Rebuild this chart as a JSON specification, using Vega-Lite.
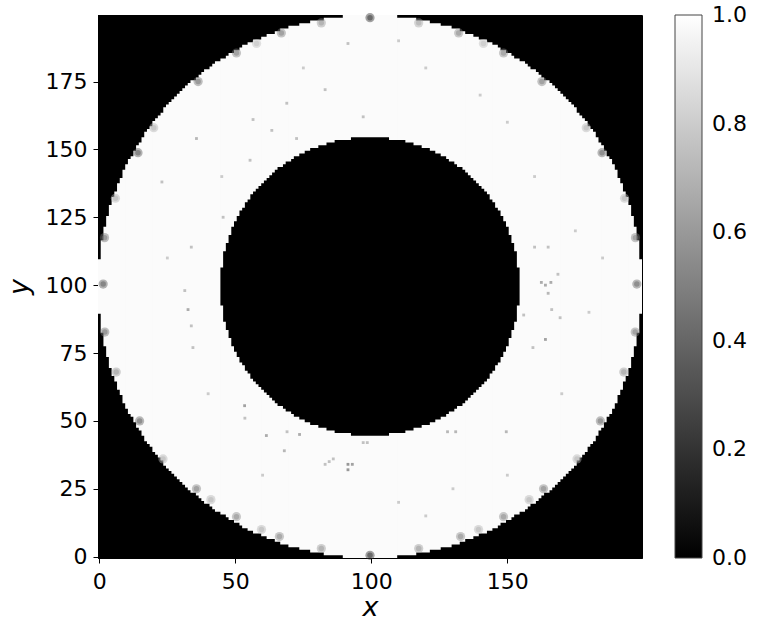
{
  "$schema": "https://vega.github.io/schema/vega-lite/v6.json",
  "autosize": {"type": "none"},
  "padding": {"left": 98, "top": 15, "right": 116, "bottom": 66},
  "width": 544,
  "height": 543,
  "background": "white",
  "config": {
    "font": "DejaVu Sans",
    "view": {"stroke": "black", "strokeWidth": 1},
    "axis": {
      "grid": false,
      "domainColor": "black",
      "tickColor": "black",
      "tickSize": 5,
      "labelFontSize": 22,
      "labelColor": "black",
      "labelFont": "DejaVu Sans",
      "titleFont": "DejaVu Sans",
      "titleFontSize": 27,
      "titleFontStyle": "italic",
      "titleFontWeight": "normal",
      "titleColor": "black"
    }
  },
  "datasets": {
    "regions": [
      {"x0": -0.5, "x1": 199.5, "y0": -0.5, "y1": 199.5, "v": 0},
      {"x0": -0.5, "x1": 199.5, "y0": 89.5, "y1": 109.5, "v": 0.985},
      {"x0": 0.5, "x1": 198.5, "y0": 82.5, "y1": 116.5, "v": 0.985},
      {"x0": 1.5, "x1": 197.5, "y0": 77.5, "y1": 121.5, "v": 0.985},
      {"x0": 2.5, "x1": 196.5, "y0": 73.5, "y1": 125.5, "v": 0.985},
      {"x0": 3.5, "x1": 195.5, "y0": 69.5, "y1": 129.5, "v": 0.985},
      {"x0": 4.5, "x1": 194.5, "y0": 66.5, "y1": 132.5, "v": 0.985},
      {"x0": 5.5, "x1": 193.5, "y0": 64.5, "y1": 134.5, "v": 0.985},
      {"x0": 6.5, "x1": 192.5, "y0": 61.5, "y1": 137.5, "v": 0.985},
      {"x0": 7.5, "x1": 191.5, "y0": 59.5, "y1": 139.5, "v": 0.985},
      {"x0": 8.5, "x1": 190.5, "y0": 56.5, "y1": 142.5, "v": 0.985},
      {"x0": 9.5, "x1": 189.5, "y0": 54.5, "y1": 144.5, "v": 0.985},
      {"x0": 10.5, "x1": 188.5, "y0": 52.5, "y1": 146.5, "v": 0.985},
      {"x0": 11.5, "x1": 187.5, "y0": 51.5, "y1": 147.5, "v": 0.985},
      {"x0": 12.5, "x1": 186.5, "y0": 49.5, "y1": 149.5, "v": 0.985},
      {"x0": 13.5, "x1": 185.5, "y0": 47.5, "y1": 151.5, "v": 0.985},
      {"x0": 14.5, "x1": 184.5, "y0": 46.5, "y1": 152.5, "v": 0.985},
      {"x0": 15.5, "x1": 183.5, "y0": 44.5, "y1": 154.5, "v": 0.985},
      {"x0": 16.5, "x1": 182.5, "y0": 42.5, "y1": 156.5, "v": 0.985},
      {"x0": 17.5, "x1": 181.5, "y0": 41.5, "y1": 157.5, "v": 0.985},
      {"x0": 18.5, "x1": 180.5, "y0": 40.5, "y1": 158.5, "v": 0.985},
      {"x0": 19.5, "x1": 179.5, "y0": 38.5, "y1": 160.5, "v": 0.985},
      {"x0": 20.5, "x1": 178.5, "y0": 37.5, "y1": 161.5, "v": 0.985},
      {"x0": 21.5, "x1": 177.5, "y0": 36.5, "y1": 162.5, "v": 0.985},
      {"x0": 22.5, "x1": 176.5, "y0": 35.5, "y1": 163.5, "v": 0.985},
      {"x0": 23.5, "x1": 175.5, "y0": 33.5, "y1": 165.5, "v": 0.985},
      {"x0": 24.5, "x1": 174.5, "y0": 32.5, "y1": 166.5, "v": 0.985},
      {"x0": 25.5, "x1": 173.5, "y0": 31.5, "y1": 167.5, "v": 0.985},
      {"x0": 26.5, "x1": 172.5, "y0": 30.5, "y1": 168.5, "v": 0.985},
      {"x0": 27.5, "x1": 171.5, "y0": 29.5, "y1": 169.5, "v": 0.985},
      {"x0": 28.5, "x1": 170.5, "y0": 28.5, "y1": 170.5, "v": 0.985},
      {"x0": 29.5, "x1": 169.5, "y0": 27.5, "y1": 171.5, "v": 0.985},
      {"x0": 30.5, "x1": 168.5, "y0": 26.5, "y1": 172.5, "v": 0.985},
      {"x0": 31.5, "x1": 167.5, "y0": 25.5, "y1": 173.5, "v": 0.985},
      {"x0": 32.5, "x1": 166.5, "y0": 24.5, "y1": 174.5, "v": 0.985},
      {"x0": 33.5, "x1": 165.5, "y0": 23.5, "y1": 175.5, "v": 0.985},
      {"x0": 35.5, "x1": 163.5, "y0": 22.5, "y1": 176.5, "v": 0.985},
      {"x0": 36.5, "x1": 162.5, "y0": 21.5, "y1": 177.5, "v": 0.985},
      {"x0": 37.5, "x1": 161.5, "y0": 20.5, "y1": 178.5, "v": 0.985},
      {"x0": 38.5, "x1": 160.5, "y0": 19.5, "y1": 179.5, "v": 0.985},
      {"x0": 40.5, "x1": 158.5, "y0": 18.5, "y1": 180.5, "v": 0.985},
      {"x0": 41.5, "x1": 157.5, "y0": 17.5, "y1": 181.5, "v": 0.985},
      {"x0": 42.5, "x1": 156.5, "y0": 16.5, "y1": 182.5, "v": 0.985},
      {"x0": 44.5, "x1": 154.5, "y0": 15.5, "y1": 183.5, "v": 0.985},
      {"x0": 46.5, "x1": 152.5, "y0": 14.5, "y1": 184.5, "v": 0.985},
      {"x0": 47.5, "x1": 151.5, "y0": 13.5, "y1": 185.5, "v": 0.985},
      {"x0": 49.5, "x1": 149.5, "y0": 12.5, "y1": 186.5, "v": 0.985},
      {"x0": 51.5, "x1": 147.5, "y0": 11.5, "y1": 187.5, "v": 0.985},
      {"x0": 52.5, "x1": 146.5, "y0": 10.5, "y1": 188.5, "v": 0.985},
      {"x0": 54.5, "x1": 144.5, "y0": 9.5, "y1": 189.5, "v": 0.985},
      {"x0": 56.5, "x1": 142.5, "y0": 8.5, "y1": 190.5, "v": 0.985},
      {"x0": 59.5, "x1": 139.5, "y0": 7.5, "y1": 191.5, "v": 0.985},
      {"x0": 61.5, "x1": 137.5, "y0": 6.5, "y1": 192.5, "v": 0.985},
      {"x0": 64.5, "x1": 134.5, "y0": 5.5, "y1": 193.5, "v": 0.985},
      {"x0": 66.5, "x1": 132.5, "y0": 4.5, "y1": 194.5, "v": 0.985},
      {"x0": 69.5, "x1": 129.5, "y0": 3.5, "y1": 195.5, "v": 0.985},
      {"x0": 73.5, "x1": 125.5, "y0": 2.5, "y1": 196.5, "v": 0.985},
      {"x0": 77.5, "x1": 121.5, "y0": 1.5, "y1": 197.5, "v": 0.985},
      {"x0": 82.5, "x1": 116.5, "y0": 0.5, "y1": 198.5, "v": 0.985},
      {"x0": 89.5, "x1": 109.5, "y0": -0.5, "y1": 199.5, "v": 0.985},
      {"x0": 44.5, "x1": 154.5, "y0": 92.5, "y1": 106.5, "v": 0},
      {"x0": 45.5, "x1": 153.5, "y0": 86.5, "y1": 112.5, "v": 0},
      {"x0": 46.5, "x1": 152.5, "y0": 83.5, "y1": 115.5, "v": 0},
      {"x0": 47.5, "x1": 151.5, "y0": 80.5, "y1": 118.5, "v": 0},
      {"x0": 48.5, "x1": 150.5, "y0": 77.5, "y1": 121.5, "v": 0},
      {"x0": 49.5, "x1": 149.5, "y0": 75.5, "y1": 123.5, "v": 0},
      {"x0": 50.5, "x1": 148.5, "y0": 73.5, "y1": 125.5, "v": 0},
      {"x0": 51.5, "x1": 147.5, "y0": 71.5, "y1": 127.5, "v": 0},
      {"x0": 52.5, "x1": 146.5, "y0": 70.5, "y1": 128.5, "v": 0},
      {"x0": 53.5, "x1": 145.5, "y0": 68.5, "y1": 130.5, "v": 0},
      {"x0": 54.5, "x1": 144.5, "y0": 67.5, "y1": 131.5, "v": 0},
      {"x0": 55.5, "x1": 143.5, "y0": 65.5, "y1": 133.5, "v": 0},
      {"x0": 56.5, "x1": 142.5, "y0": 64.5, "y1": 134.5, "v": 0},
      {"x0": 57.5, "x1": 141.5, "y0": 63.5, "y1": 135.5, "v": 0},
      {"x0": 58.5, "x1": 140.5, "y0": 62.5, "y1": 136.5, "v": 0},
      {"x0": 59.5, "x1": 139.5, "y0": 61.5, "y1": 137.5, "v": 0},
      {"x0": 60.5, "x1": 138.5, "y0": 60.5, "y1": 138.5, "v": 0},
      {"x0": 61.5, "x1": 137.5, "y0": 59.5, "y1": 139.5, "v": 0},
      {"x0": 62.5, "x1": 136.5, "y0": 58.5, "y1": 140.5, "v": 0},
      {"x0": 63.5, "x1": 135.5, "y0": 57.5, "y1": 141.5, "v": 0},
      {"x0": 64.5, "x1": 134.5, "y0": 56.5, "y1": 142.5, "v": 0},
      {"x0": 65.5, "x1": 133.5, "y0": 55.5, "y1": 143.5, "v": 0},
      {"x0": 67.5, "x1": 131.5, "y0": 54.5, "y1": 144.5, "v": 0},
      {"x0": 68.5, "x1": 130.5, "y0": 53.5, "y1": 145.5, "v": 0},
      {"x0": 70.5, "x1": 128.5, "y0": 52.5, "y1": 146.5, "v": 0},
      {"x0": 71.5, "x1": 127.5, "y0": 51.5, "y1": 147.5, "v": 0},
      {"x0": 73.5, "x1": 125.5, "y0": 50.5, "y1": 148.5, "v": 0},
      {"x0": 75.5, "x1": 123.5, "y0": 49.5, "y1": 149.5, "v": 0},
      {"x0": 77.5, "x1": 121.5, "y0": 48.5, "y1": 150.5, "v": 0},
      {"x0": 80.5, "x1": 118.5, "y0": 47.5, "y1": 151.5, "v": 0},
      {"x0": 83.5, "x1": 115.5, "y0": 46.5, "y1": 152.5, "v": 0},
      {"x0": 86.5, "x1": 112.5, "y0": 45.5, "y1": 153.5, "v": 0},
      {"x0": 92.5, "x1": 106.5, "y0": 44.5, "y1": 154.5, "v": 0}
    ],
    "smudges": [
      {"x": 14.2, "y": 148.8, "v": 0.35}, {"x": 36.3, "y": 175, "v": 0.45}, {"x": 50.4, "y": 185.5, "v": 0.5},
      {"x": 66.9, "y": 192.9, "v": 0.5}, {"x": 81.6, "y": 196.6, "v": 0.6}, {"x": 1.9, "y": 117.5, "v": 0.45},
      {"x": 5.9, "y": 132, "v": 0.7}, {"x": 20, "y": 158, "v": 0.7}, {"x": 57.8, "y": 189, "v": 0.75},
      {"x": 1.4, "y": 100.4, "v": 0.35}, {"x": 2, "y": 82.7, "v": 0.45}, {"x": 6.2, "y": 68, "v": 0.6},
      {"x": 14.8, "y": 50, "v": 0.4}, {"x": 23.4, "y": 36, "v": 0.7}, {"x": 35.7, "y": 25, "v": 0.5},
      {"x": 41, "y": 21, "v": 0.7}, {"x": 50.4, "y": 14.7, "v": 0.55}, {"x": 59.6, "y": 10, "v": 0.7},
      {"x": 66.2, "y": 7.4, "v": 0.55}, {"x": 81.6, "y": 3, "v": 0.6}, {"x": 99.5, "y": 198.5, "v": 0.2},
      {"x": 99.5, "y": 0.5, "v": 0.2},
      {"x": 184.8, "y": 148.8, "v": 0.4}, {"x": 162.7, "y": 175, "v": 0.5}, {"x": 148.6, "y": 185.5, "v": 0.55},
      {"x": 132.1, "y": 192.9, "v": 0.55}, {"x": 117.4, "y": 196.6, "v": 0.65}, {"x": 197.1, "y": 117.5, "v": 0.5},
      {"x": 193.1, "y": 132, "v": 0.7}, {"x": 179, "y": 158, "v": 0.7}, {"x": 141.2, "y": 189, "v": 0.75},
      {"x": 197.6, "y": 100.4, "v": 0.4}, {"x": 197, "y": 82.7, "v": 0.5}, {"x": 192.8, "y": 68, "v": 0.6},
      {"x": 184.2, "y": 50, "v": 0.45}, {"x": 175.6, "y": 36, "v": 0.7}, {"x": 163.3, "y": 25, "v": 0.5},
      {"x": 158, "y": 21, "v": 0.7}, {"x": 148.6, "y": 14.7, "v": 0.55}, {"x": 139.4, "y": 10, "v": 0.7},
      {"x": 132.8, "y": 7.4, "v": 0.55}, {"x": 117.4, "y": 3, "v": 0.6}
    ],
    "speckles": [
      {"x": 32.6, "y": 91, "v": 0.6}, {"x": 53.4, "y": 55.6, "v": 0.55}, {"x": 61.4, "y": 44.6, "v": 0.6},
      {"x": 91.4, "y": 32, "v": 0.5}, {"x": 91.4, "y": 34, "v": 0.5}, {"x": 93, "y": 34, "v": 0.55},
      {"x": 69, "y": 46, "v": 0.7}, {"x": 73.6, "y": 45, "v": 0.6}, {"x": 68, "y": 39, "v": 0.65},
      {"x": 84.5, "y": 35, "v": 0.7}, {"x": 86, "y": 36, "v": 0.7}, {"x": 33.8, "y": 85, "v": 0.7},
      {"x": 31.4, "y": 98, "v": 0.7}, {"x": 34.4, "y": 77, "v": 0.7}, {"x": 53.5, "y": 51, "v": 0.7},
      {"x": 97, "y": 42, "v": 0.7}, {"x": 98.5, "y": 42, "v": 0.7}, {"x": 35.7, "y": 154, "v": 0.65},
      {"x": 83, "y": 172, "v": 0.7}, {"x": 23, "y": 138, "v": 0.7}, {"x": 33.8, "y": 114, "v": 0.7},
      {"x": 45.5, "y": 125, "v": 0.7}, {"x": 63.4, "y": 157, "v": 0.7}, {"x": 72.5, "y": 154, "v": 0.7},
      {"x": 56.5, "y": 161, "v": 0.7}, {"x": 91.4, "y": 189, "v": 0.7}, {"x": 97, "y": 162, "v": 0.7},
      {"x": 55.4, "y": 146, "v": 0.7}, {"x": 68.9, "y": 167, "v": 0.7}, {"x": 164, "y": 100, "v": 0.6},
      {"x": 166, "y": 101, "v": 0.6}, {"x": 162.5, "y": 101, "v": 0.6}, {"x": 165, "y": 97, "v": 0.65},
      {"x": 164, "y": 80, "v": 0.55}, {"x": 159.4, "y": 77, "v": 0.7}, {"x": 166.3, "y": 91, "v": 0.7},
      {"x": 169.4, "y": 88, "v": 0.7}, {"x": 156, "y": 89, "v": 0.7}, {"x": 160, "y": 114, "v": 0.7},
      {"x": 165, "y": 114, "v": 0.7}, {"x": 168.6, "y": 104, "v": 0.7}, {"x": 149.6, "y": 46, "v": 0.65},
      {"x": 131, "y": 46, "v": 0.65}, {"x": 128, "y": 46, "v": 0.65}, {"x": 83, "y": 34, "v": 0.7},
      {"x": 120, "y": 180, "v": 0.75}, {"x": 140, "y": 170, "v": 0.75}, {"x": 110, "y": 190, "v": 0.75},
      {"x": 150, "y": 160, "v": 0.75}, {"x": 175, "y": 120, "v": 0.75}, {"x": 180, "y": 90, "v": 0.75},
      {"x": 170, "y": 60, "v": 0.75}, {"x": 150, "y": 30, "v": 0.75}, {"x": 120, "y": 15, "v": 0.75},
      {"x": 130, "y": 25, "v": 0.75}, {"x": 160, "y": 140, "v": 0.75}, {"x": 185, "y": 110, "v": 0.75},
      {"x": 40, "y": 60, "v": 0.75}, {"x": 25, "y": 110, "v": 0.75}, {"x": 45, "y": 140, "v": 0.75},
      {"x": 75, "y": 180, "v": 0.75}, {"x": 110, "y": 20, "v": 0.75}, {"x": 60, "y": 30, "v": 0.75}
    ]
  },
  "encoding": {
    "color": {
      "field": "v",
      "type": "quantitative",
      "scale": {"domain": [0, 1], "range": ["black", "white"], "interpolate": "rgb"},
      "legend": {
        "type": "gradient",
        "title": null,
        "orient": "none",
        "legendX": 577,
        "legendY": 0,
        "direction": "vertical",
        "gradientLength": 543,
        "gradientThickness": 27,
        "gradientStrokeColor": "#444444",
        "gradientStrokeWidth": 1,
        "values": [0, 0.2, 0.4, 0.6, 0.8, 1],
        "format": ".1f",
        "labelFontSize": 22,
        "labelFont": "DejaVu Sans",
        "labelColor": "black",
        "labelOffset": 10,
        "labelOverlap": false,
        "encode": {"labels": {"update": {"baseline": {"value": "middle"}}}}
      }
    }
  },
  "layer": [
    {
      "data": {"name": "regions"},
      "mark": {"type": "rect", "strokeWidth": 0},
      "encoding": {
        "x": {"field": "x0", "type": "quantitative", "scale": {"domain": [-0.5, 199.5], "nice": false, "zero": false},
              "axis": {"values": [0, 50, 100, 150], "title": "x", "labelPadding": 8, "titlePadding": 2}},
        "x2": {"field": "x1"},
        "y": {"field": "y0", "type": "quantitative", "scale": {"domain": [-0.5, 199.5], "nice": false, "zero": false},
              "axis": {"values": [0, 25, 50, 75, 100, 125, 150, 175], "title": "y", "labelPadding": 6, "titlePadding": 12}},
        "y2": {"field": "y1"}
      }
    },
    {
      "data": {"name": "smudges"},
      "mark": {"type": "point", "shape": "circle", "filled": true, "size": 85, "opacity": 0.45, "strokeWidth": 0},
      "encoding": {
        "x": {"field": "x", "type": "quantitative"},
        "y": {"field": "y", "type": "quantitative"}
      }
    },
    {
      "data": {"name": "smudges"},
      "mark": {"type": "point", "shape": "circle", "filled": true, "size": 30, "opacity": 0.5, "strokeWidth": 0},
      "encoding": {
        "x": {"field": "x", "type": "quantitative"},
        "y": {"field": "y", "type": "quantitative"}
      }
    },
    {
      "data": {"name": "speckles"},
      "mark": {"type": "point", "shape": "square", "filled": true, "size": 8, "opacity": 0.8, "strokeWidth": 0},
      "encoding": {
        "x": {"field": "x", "type": "quantitative"},
        "y": {"field": "y", "type": "quantitative"}
      }
    }
  ]
}
